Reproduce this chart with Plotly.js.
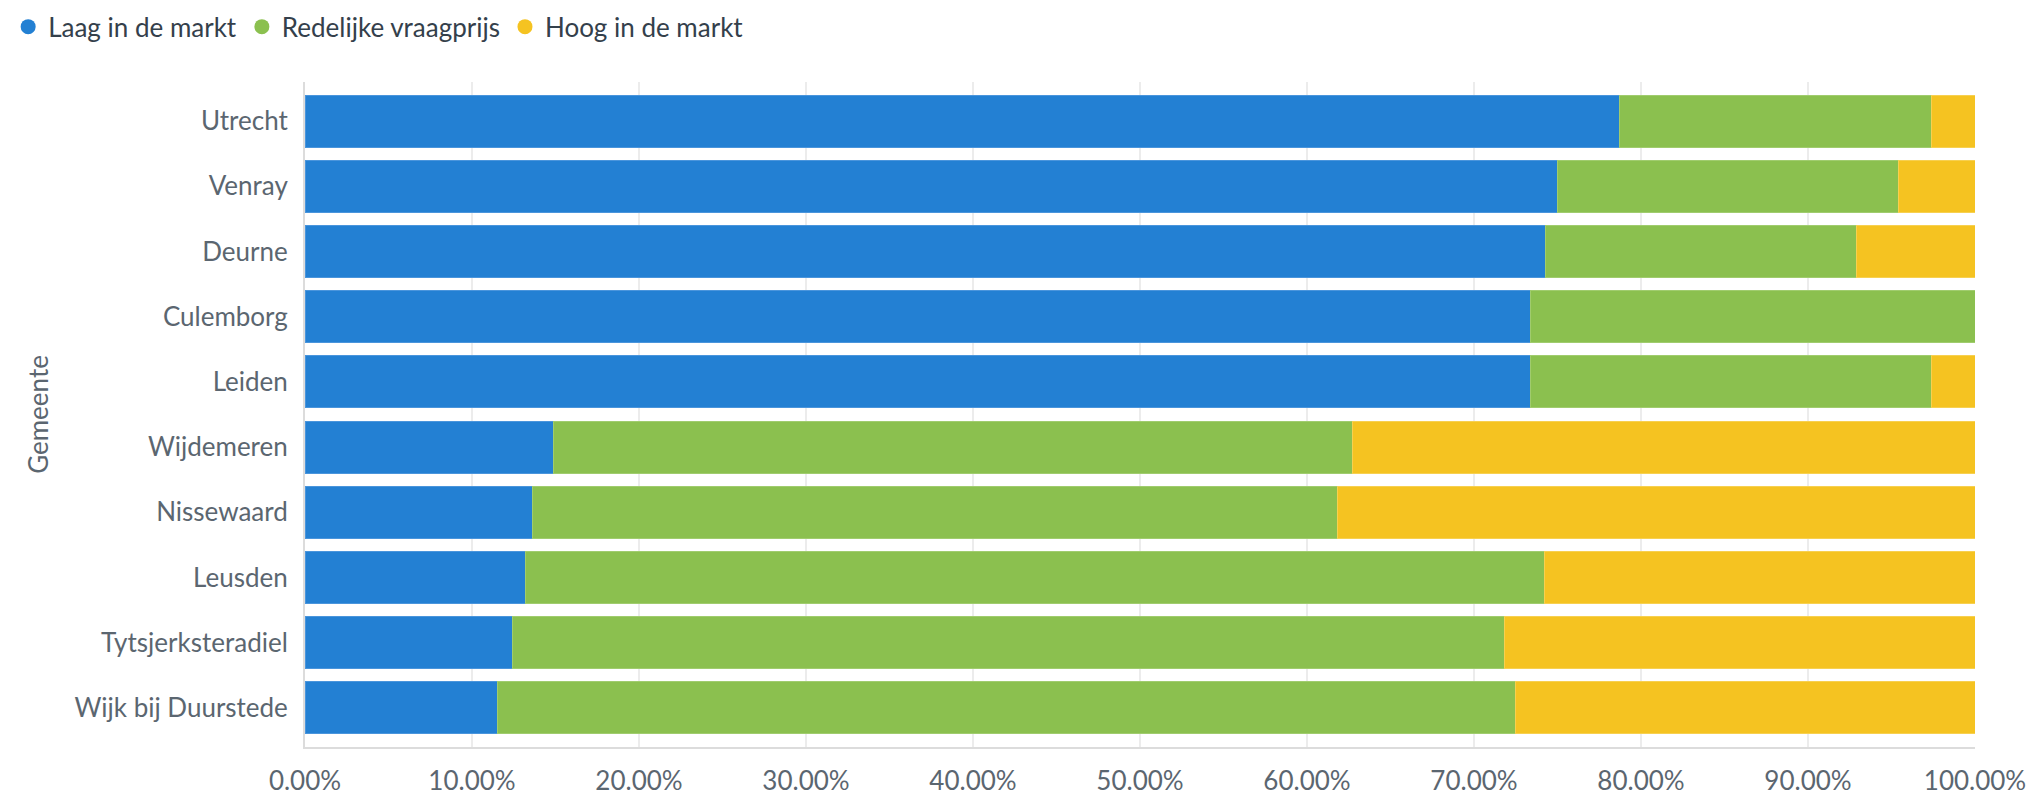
<!DOCTYPE html>
<html>
<head>
<meta charset="utf-8">
<script src="https://cdn.plot.ly/plotly-3.0.1.min.js"></script>
<style>
  html, body { margin: 0; padding: 0; background: #fff; }
  #chart { width: 2040px; height: 812px; }
</style>
</head>
<body>
<div id="chart"></div>
<script>
// gemeenten, top to bottom
var gemeenten = ['Utrecht', 'Venray', 'Deurne', 'Culemborg', 'Leiden', 'Wijdemeren',
  'Nissewaard', 'Leusden', 'Tytsjerksteradiel', 'Wijk bij Duurstede'];

// share of listings, in percent
var laag = [78.7, 75.0, 74.3, 73.4, 73.4, 14.9, 13.6, 13.2, 12.4, 11.5];
var redelijk = [18.7, 20.4, 18.6, 26.6, 24.0, 47.8, 48.2, 61.0, 59.4, 61.0];
var hoog = [2.6, 4.6, 7.1, 0, 2.6, 37.3, 38.2, 25.8, 28.2, 27.5];

var seriesNames = ['Laag in de markt', 'Redelijke vraagprijs', 'Hoog in de markt'];
var seriesColors = ['#2380d3', '#8bc04f', '#f5c321'];
var seriesEdges = ['#4a95dc', '#a0cc6e', '#f7d050'];
var xTicks = [0, 10, 20, 30, 40, 50, 60, 70, 80, 90, 100];

var font = 'Lato, "Open Sans", sans-serif';

var traces = [laag, redelijk, hoog].map(function (vals, i) {
  return {
    type: 'bar',
    orientation: 'h',
    name: seriesNames[i],
    x: vals,
    y: gemeenten,
    legendgroup: 'g' + i,
    showlegend: false,
    marker: { color: seriesColors[i], line: { color: seriesEdges[i], width: 1 } },
    hoverinfo: 'x+y+name'
  };
});

// round legend markers
seriesNames.forEach(function (n, i) {
  traces.push({
    type: 'scatter',
    mode: 'markers',
    name: n,
    x: [null],
    y: [null],
    legendgroup: 'g' + i,
    marker: { color: seriesColors[i], size: 15, symbol: 'circle' },
    hoverinfo: 'skip'
  });
});

var layout = {
  width: 2040,
  height: 812,
  barmode: 'stack',
  bargap: 0.2,
  paper_bgcolor: '#fff',
  plot_bgcolor: '#fff',
  font: { family: font, size: 26, color: '#5b6670' },
  margin: { l: 305, r: 65, t: 82, b: 65 },
  showlegend: true,
  legend: {
    orientation: 'h',
    xref: 'container', yref: 'container',
    x: 0.004, y: 0.996, xanchor: 'left', yanchor: 'top',
    font: { family: font, size: 26, color: '#34404b' },
    itemclick: false, itemdoubleclick: false,
    traceorder: 'normal'
  },
  xaxis: {
    range: [0, 100],
    tickvals: xTicks,
    ticktext: xTicks.map(function (v) { return v.toFixed(2) + '%'; }),
    showgrid: true,
    gridcolor: '#ececec',
    gridwidth: 2,
    zeroline: false,
    showline: true,
    linecolor: '#dcdcdc',
    linewidth: 2,
    ticks: '',
    ticklabelstandoff: 10,
    tickfont: { family: font, size: 26, color: '#5b6670' },
    fixedrange: true
  },
  yaxis: {
    type: 'category',
    categoryorder: 'array',
    categoryarray: gemeenten,
    range: [9.6, -0.6],
    showgrid: false,
    zeroline: false,
    showline: true,
    linecolor: '#dcdcdc',
    linewidth: 2,
    ticks: '',
    ticklabelstandoff: 10,
    tickfont: { family: font, size: 26, color: '#5b6670' },
    title: { text: 'Gemeente', standoff: 18, font: { family: font, size: 26, color: '#5b6670' } },
    fixedrange: true
  }
};

Plotly.newPlot('chart', traces, layout, { displayModeBar: false, responsive: false });
</script>
</body>
</html>
